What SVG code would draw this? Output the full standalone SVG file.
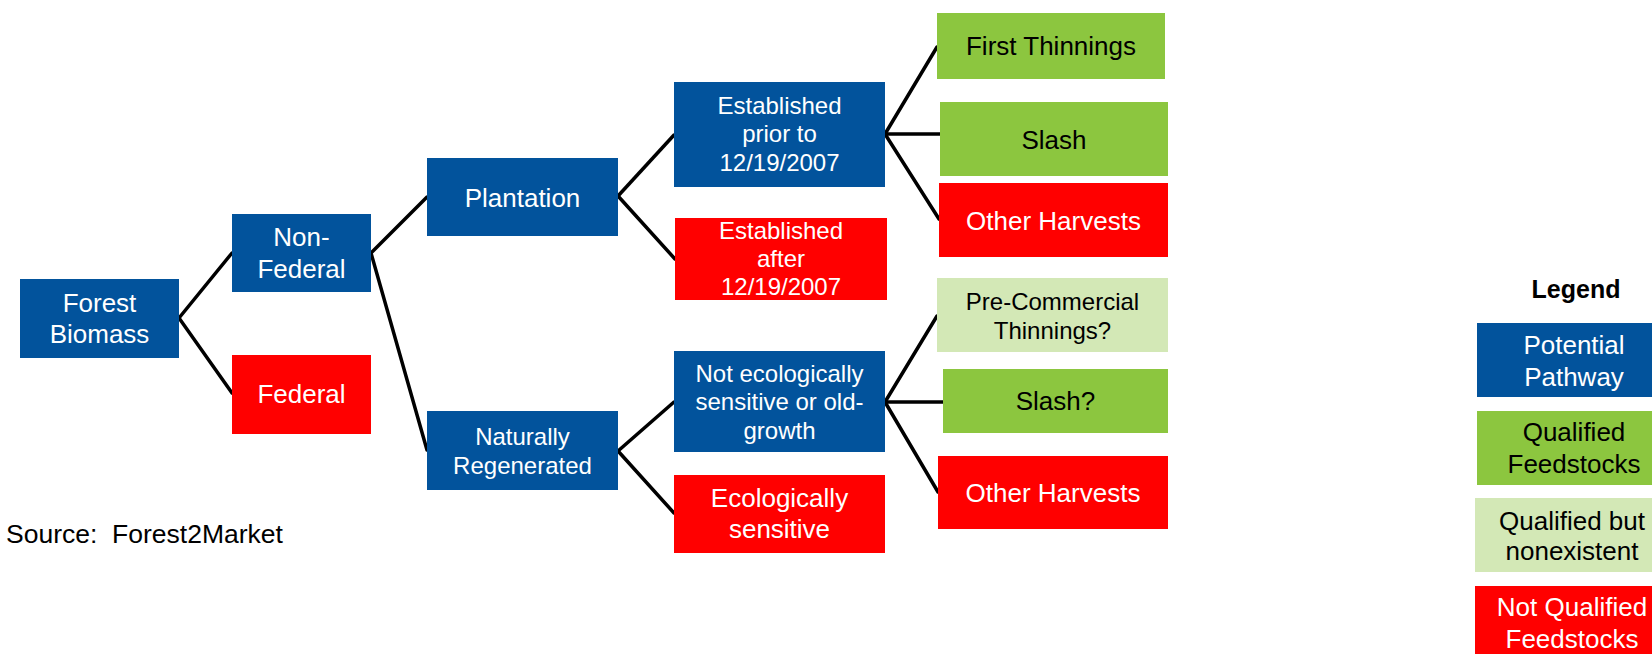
<svg xmlns="http://www.w3.org/2000/svg" width="1652" height="654" viewBox="0 0 1652 654">
<style>
text{font-family:"Liberation Sans",Arial,sans-serif;text-anchor:middle;font-size:26px}
.b{fill:#02539c}.r{fill:#ff0000}.g{fill:#8cc63f}.lg{fill:#d3e8b6}
.w{fill:#fff}.k{fill:#000}.s{font-size:24px}
#connectors line{stroke:#000;stroke-width:3.5;stroke-linecap:round}
</style>
<rect width="1652" height="654" fill="#fff"/>
<g id="connectors">
<line x1="179" y1="318" x2="232" y2="253"/>
<line x1="179" y1="318" x2="232" y2="393"/>
<line x1="371" y1="253" x2="427" y2="197"/>
<line x1="371" y1="253" x2="427" y2="450"/>
<line x1="618" y1="196" x2="674" y2="135"/>
<line x1="618" y1="196" x2="675" y2="259"/>
<line x1="618" y1="451" x2="674" y2="402"/>
<line x1="618" y1="451" x2="674" y2="513"/>
<line x1="885" y1="134" x2="937" y2="47"/>
<line x1="885" y1="134" x2="940" y2="134"/>
<line x1="885" y1="134" x2="939" y2="219"/>
<line x1="885" y1="402" x2="937" y2="316"/>
<line x1="885" y1="402" x2="943" y2="402"/>
<line x1="885" y1="402" x2="938" y2="492"/>
</g>
<g id="forest-biomass"><rect class="b" x="20" y="279" width="159" height="79"/><text class="w" x="99.5" y="311.5">Forest</text><text class="w" x="99.5" y="343">Biomass</text></g>
<g id="non-federal"><rect class="b" x="232" y="214" width="139" height="78"/><text class="w" x="301.5" y="246">Non-</text><text class="w" x="301.5" y="277.5">Federal</text></g>
<g id="federal"><rect class="r" x="232" y="355" width="139" height="79"/><text class="w" x="301.5" y="403">Federal</text></g>
<g id="plantation"><rect class="b" x="427" y="158" width="191" height="78"/><text class="w" x="522.5" y="206.5">Plantation</text></g>
<g id="naturally-regenerated"><rect class="b" x="427" y="411" width="191" height="79"/><text class="w s" x="522.5" y="445">Naturally</text><text class="w s" x="522.5" y="473.5">Regenerated</text></g>
<g id="established-prior"><rect class="b" x="674" y="82" width="211" height="105"/><text class="w s" x="779.5" y="114">Established</text><text class="w s" x="779.5" y="142">prior to</text><text class="w s" x="779.5" y="171">12/19/2007</text></g>
<g id="established-after"><rect class="r" x="675" y="218" width="212" height="82"/><text class="w s" x="781" y="238.5">Established</text><text class="w s" x="781" y="267">after</text><text class="w s" x="781" y="295">12/19/2007</text></g>
<g id="not-ecologically-sensitive"><rect class="b" x="674" y="351" width="211" height="101"/><text class="w s" x="779.5" y="381.5">Not ecologically</text><text class="w s" x="779.5" y="410">sensitive or old-</text><text class="w s" x="779.5" y="438.5">growth</text></g>
<g id="ecologically-sensitive"><rect class="r" x="674" y="475" width="211" height="78"/><text class="w" x="779.5" y="507">Ecologically</text><text class="w" x="779.5" y="538">sensitive</text></g>
<g id="first-thinnings"><rect class="g" x="937" y="13" width="228" height="66"/><text class="k" x="1051" y="55">First Thinnings</text></g>
<g id="slash"><rect class="g" x="940" y="102" width="228" height="74"/><text class="k" x="1054" y="148.5">Slash</text></g>
<g id="other-harvests-1"><rect class="r" x="939" y="183" width="229" height="74"/><text class="w" x="1053.5" y="229.5">Other Harvests</text></g>
<g id="pre-commercial-thinnings"><rect class="lg" x="937" y="278" width="231" height="74"/><text class="k s" x="1052.5" y="310">Pre-Commercial</text><text class="k s" x="1052.5" y="338.5">Thinnings?</text></g>
<g id="slash-q"><rect class="g" x="943" y="369" width="225" height="64"/><text class="k" x="1055.5" y="410">Slash?</text></g>
<g id="other-harvests-2"><rect class="r" x="938" y="456" width="230" height="73"/><text class="w" x="1053" y="501.5">Other Harvests</text></g>
<g id="source"><text class="k" x="6" y="543" style="text-anchor:start;font-size:26.5px" xml:space="preserve">Source:  Forest2Market</text></g>
<g id="legend">
<text class="k" x="1576" y="298" style="font-weight:bold;font-size:25px">Legend</text>
<rect class="b" x="1477" y="323" width="200" height="74"/><text class="w" x="1574" y="353.5">Potential</text><text class="w" x="1574" y="386">Pathway</text>
<rect class="g" x="1477" y="411" width="200" height="74"/><text class="k" x="1574" y="440.5">Qualified</text><text class="k" x="1574" y="472.5">Feedstocks</text>
<rect class="lg" x="1475" y="498" width="200" height="74"/><text class="k" x="1572" y="529.5">Qualified but</text><text class="k" x="1572" y="560">nonexistent</text>
<rect class="r" x="1475" y="586" width="200" height="74"/><text class="w" x="1572" y="616">Not Qualified</text><text class="w" x="1572" y="648">Feedstocks</text>
</g>
</svg>
